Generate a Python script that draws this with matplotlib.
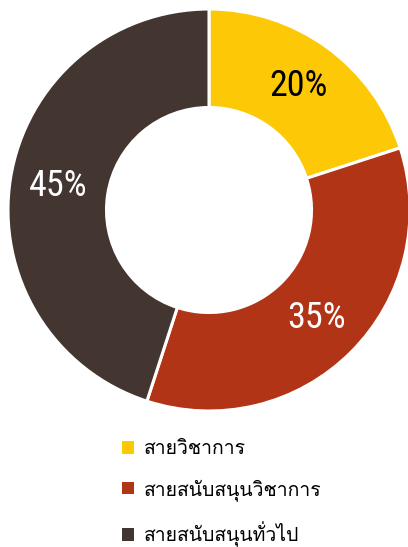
import matplotlib
matplotlib.use("Agg")
import matplotlib.pyplot as plt
from matplotlib import font_manager
from matplotlib.ft2font import FT2Font
from matplotlib.patches import Patch

# staff share by line of work
categories = ["สายวิชาการ", "สายสนับสนุนวิชาการ", "สายสนับสนุนทั่วไป"]
shares = [20, 35, 45]
colors = ["#FDC806", "#B13416", "#433530"]
label_colors = ["black", "white", "white"]


def font_for(char, fallback="DejaVu Sans"):
    # first installed family that actually has a glyph for char
    for f in font_manager.fontManager.ttflist:
        try:
            if ord(char) in FT2Font(f.fname).get_charmap():
                return f.name
        except Exception:
            continue
    return fallback


thai_font = font_for("ส")
num_fonts = ["Liberation Sans Narrow", "Roboto Condensed", "DejaVu Sans"]

W, H = 408, 547
fig = plt.figure(figsize=(W / 100, H / 100), dpi=100)

cx, cy, r = 209, 210, 201
ax = fig.add_axes([(cx - r) / W, (H - cy - r) / H, 2 * r / W, 2 * r / H])

wedges, texts, autotexts = ax.pie(
    shares,
    colors=colors,
    startangle=90,
    counterclock=False,
    autopct="%d%%",
    pctdistance=0.76,
    wedgeprops=dict(width=0.49, edgecolor="white", linewidth=2.2),
)
for t, c in zip(autotexts, label_colors):
    t.set_color(c)
    t.set_fontsize(26)
    t.set_family(num_fonts)
    t.set_fontstretch("condensed")
ax.set_xlim(-1, 1)
ax.set_ylim(-1, 1)
ax.set_aspect("equal")

handles = [Patch(facecolor=c, edgecolor="none") for c in colors]
fig.legend(
    handles,
    categories,
    loc="upper left",
    bbox_to_anchor=(104 / W, 1 - 423 / H),
    frameon=False,
    prop={"family": [thai_font, "DejaVu Sans"], "size": 14},
    handlelength=0.62,
    handleheight=0.62,
    handletextpad=0.55,
    labelspacing=1.05,
)

fig.savefig("out.png", dpi=100)
